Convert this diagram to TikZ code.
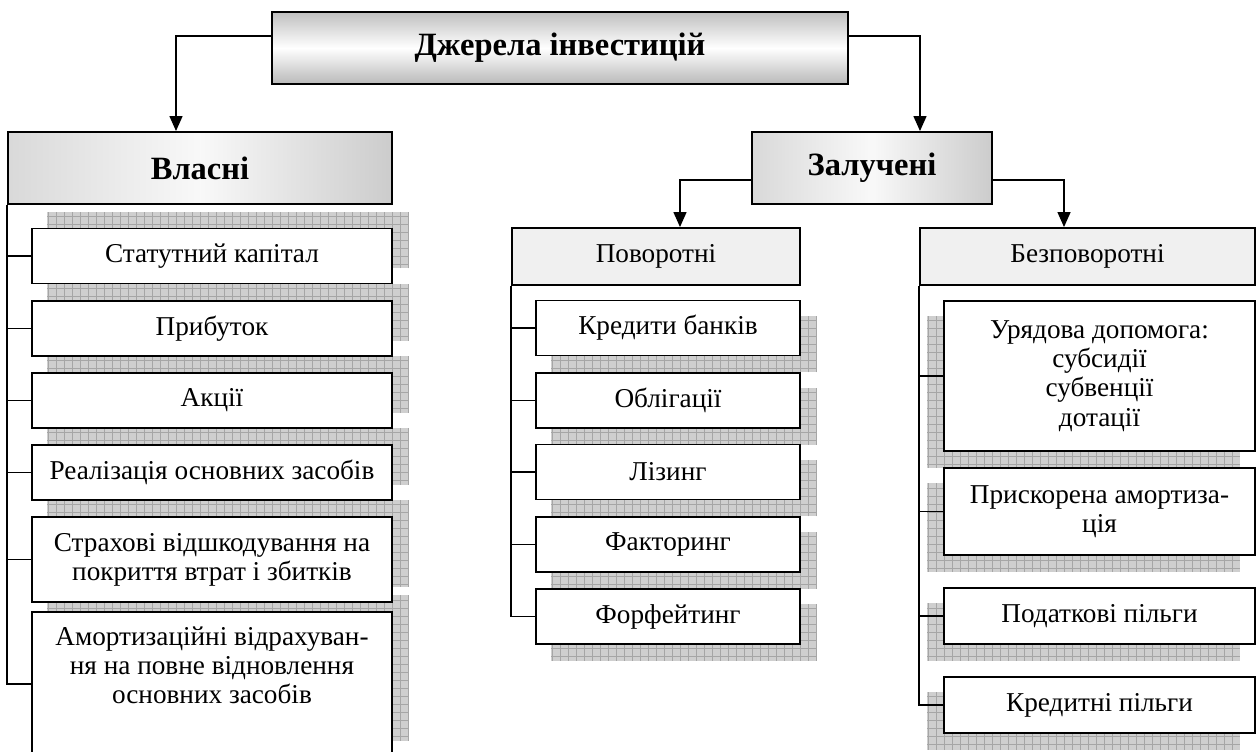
\documentclass[tikz,border=0pt]{standalone}
\usepackage{fontspec}
\setmainfont{Liberation Serif}
\usetikzlibrary{arrows.meta,backgrounds}

\begin{document}
\begin{tikzpicture}[x=0.02cm, y=-0.02cm,
  box/.style={draw, line width=1.1pt, align=center, inner sep=2pt, font=\fontsize{15.5}{16.6}\selectfont},
  head/.style={box, font=\fontsize{18.5}{21}\selectfont\bfseries, minimum height=1.44cm},
  sub/.style={box, fill=gray!12, minimum height=1.14cm},
  item/.style={box, fill=white, minimum height=1.1cm},
  shadowgrid/.style={fill=gray!38, path picture={\draw[gray!70, line width=0.3pt, step=0.16cm] (path picture bounding box.south west) grid (path picture bounding box.north east);}},
  arr/.style={line width=0.8pt, -{Triangle[width=0.26cm, length=0.3cm]}},
  link/.style={line width=0.8pt}]
\useasboundingbox (0,0) rectangle (1257,751);

\node[head, minimum width=11.52cm, top color=gray!50, bottom color=gray!55, middle color=white] (top) at (560,48) {Джерела інвестицій};
\node[head, minimum width=7.68cm, left color=gray!30, right color=gray!40, middle color=gray!5] (vlasni) at (200,168) {Власні};
\node[head, minimum width=4.8cm, left color=gray!30, right color=gray!40, middle color=gray!5] (zaluch) at (872,168) {Залучені};
\node[sub, minimum width=5.76cm] (povor) at (656,256.5) {Поворотні};
\node[sub, minimum width=6.7cm] (bezpov) at (1087.5,256.5) {Безповоротні};

\node[item, minimum width=7.2cm] (stat) at (212,256) {Статутний капітал};
\node[item, minimum width=7.2cm] (prib) at (212,328.5) {Прибуток};
\node[item, minimum width=7.2cm] (akcii) at (212,400.5) {Акції};
\node[item, minimum width=7.2cm] (real) at (212,472.5) {Реалізація основних засобів};
\node[item, minimum width=7.2cm, minimum height=1.7cm] (strakh) at (212,559.5) {Страхові відшкодування на\\покриття втрат і збитків};
\node[item, minimum width=7.2cm, minimum height=2.88cm] (amort) at (212,684) {Амортизаційні відрахуван-\\ня на повне відновлення\\основних засобів\\\strut};

\node[item, minimum width=5.28cm] (kred) at (668,328) {Кредити банків};
\node[item, minimum width=5.28cm] (oblig) at (668,400.5) {Облігації};
\node[item, minimum width=5.28cm] (lizing) at (668,472) {Лізинг};
\node[item, minimum width=5.28cm] (faktor) at (668,544.5) {Факторинг};
\node[item, minimum width=5.28cm] (forf) at (668,616.5) {Форфейтинг};

\node[item, minimum width=6.22cm, minimum height=3cm] (uryad) at (1099.5,376) {Урядова допомога:\\субсидії\\субвенції\\дотації};
\node[item, minimum width=6.22cm, minimum height=1.74cm] (prysk) at (1099.5,511.5) {Прискорена амортиза-\\ція};
\node[item, minimum width=6.22cm, minimum height=1.12cm] (podat) at (1099.5,616) {Податкові пільги};
\node[item, minimum width=6.22cm, minimum height=1.12cm] (kredp) at (1099.5,705) {Кредитні пільги};

\begin{scope}[on background layer]
\foreach \n in {stat,prib,akcii,real,strakh,amort}
  \fill[shadowgrid] ([shift={(16,-16)}]\n.south west) rectangle ([shift={(16,-16)}]\n.north east);
\foreach \n in {kred,oblig,lizing,faktor,forf}
  \fill[shadowgrid] ([shift={(16,16)}]\n.south west) rectangle ([shift={(16,16)}]\n.north east);
\foreach \n in {uryad,prysk,podat,kredp}
  \fill[shadowgrid] ([shift={(-16,16)}]\n.south west) rectangle ([shift={(-16,16)}]\n.north east);
\end{scope}

\draw[arr] ([yshift=0.24cm]top.west) -| ([xshift=-0.48cm]vlasni.north);
\draw[arr] ([yshift=0.24cm]top.east) -| ([xshift=0.96cm]zaluch.north);
\draw[arr] ([yshift=-0.24cm]zaluch.west) -| ([xshift=0.48cm]povor.north);
\draw[arr] ([yshift=-0.24cm]zaluch.east) -| ([xshift=-0.47cm]bezpov.north);

\draw[link] (vlasni.south west) |- (amort.west);
\foreach \n in {stat,prib,akcii,real,strakh}
  \draw[link] (vlasni.south west |- \n.west) -- (\n.west);
\draw[link] (povor.south west) |- (forf.west);
\foreach \n in {kred,oblig,lizing,faktor}
  \draw[link] (povor.south west |- \n.west) -- (\n.west);
\draw[link] (bezpov.south west) |- (kredp.west);
\foreach \n in {uryad,prysk,podat}
  \draw[link] (bezpov.south west |- \n.west) -- (\n.west);
\end{tikzpicture}
\end{document}
